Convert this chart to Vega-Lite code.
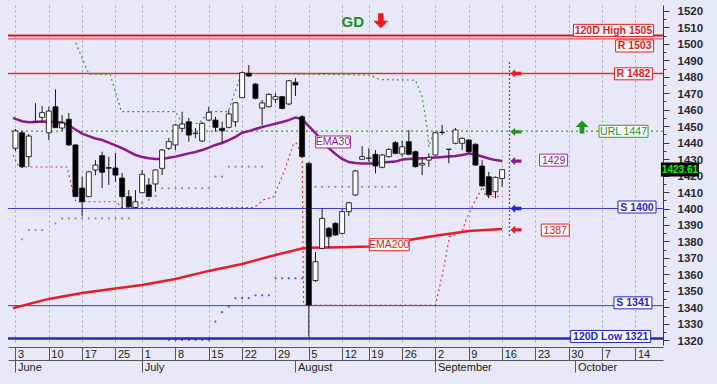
{
  "$schema": "https://vega.github.io/schema/vega-lite/v6.json",
  "width": 655,
  "height": 340,
  "autosize": {"type": "none"},
  "padding": {"left": 8, "top": 5, "right": 54, "bottom": 39},
  "background": "#e8e8f8",
  "config": {"view": {"fill": "#e8e8f8", "stroke": null}, "font": "Liberation Sans"},
  "resolve": {"axis": {"x": "independent", "y": "independent"}},
  "datasets": {
    "candles": [
      {"i":0,"o":1436.6,"h":1448.3,"l":1434.9,"c":1447.1},
      {"i":1,"o":1446.0,"h":1447.1,"l":1424.6,"c":1425.4},
      {"i":2,"o":1431.5,"h":1445.2,"l":1425.4,"c":1444.0},
      {"i":3,"o":1452.5,"h":1464.0,"l":1452.0,"c":1452.9},
      {"i":4,"o":1455.4,"h":1462.2,"l":1452.7,"c":1458.2},
      {"i":5,"o":1446.0,"h":1461.8,"l":1441.6,"c":1459.2},
      {"i":6,"o":1461.8,"h":1472.4,"l":1448.9,"c":1449.1},
      {"i":7,"o":1448.9,"h":1456.8,"l":1447.1,"c":1451.9},
      {"i":8,"o":1454.2,"h":1458.0,"l":1438.0,"c":1438.6},
      {"i":9,"o":1438.6,"h":1439.0,"l":1407.0,"c":1407.2},
      {"i":10,"o":1412.4,"h":1419.3,"l":1395.4,"c":1404.1},
      {"i":11,"o":1407.2,"h":1422.8,"l":1407.0,"c":1422.3},
      {"i":12,"o":1423.4,"h":1429.4,"l":1420.3,"c":1426.4},
      {"i":13,"o":1432.1,"h":1434.5,"l":1412.4,"c":1422.0},
      {"i":14,"o":1424.8,"h":1431.5,"l":1414.3,"c":1424.5},
      {"i":15,"o":1424.6,"h":1433.7,"l":1416.3,"c":1420.3},
      {"i":16,"o":1418.5,"h":1421.6,"l":1400.3,"c":1407.2},
      {"i":17,"o":1407.2,"h":1411.2,"l":1400.1,"c":1401.1},
      {"i":18,"o":1400.7,"h":1411.2,"l":1400.1,"c":1404.1},
      {"i":19,"o":1409.6,"h":1423.4,"l":1409.3,"c":1420.8},
      {"i":20,"o":1414.3,"h":1418.5,"l":1407.0,"c":1407.2},
      {"i":21,"o":1414.9,"h":1423.8,"l":1410.2,"c":1423.4},
      {"i":22,"o":1424.4,"h":1436.1,"l":1420.3,"c":1435.5},
      {"i":23,"o":1436.6,"h":1442.8,"l":1435.5,"c":1440.6},
      {"i":24,"o":1438.6,"h":1451.3,"l":1435.5,"c":1450.7},
      {"i":25,"o":1448.7,"h":1458.8,"l":1446.6,"c":1451.3},
      {"i":26,"o":1452.7,"h":1455.0,"l":1440.6,"c":1444.6},
      {"i":27,"o":1445.5,"h":1448.9,"l":1442.8,"c":1445.8},
      {"i":28,"o":1441.0,"h":1452.5,"l":1440.4,"c":1451.7},
      {"i":29,"o":1453.7,"h":1461.8,"l":1453.1,"c":1458.4},
      {"i":30,"o":1453.7,"h":1455.7,"l":1446.6,"c":1449.3},
      {"i":31,"o":1448.7,"h":1452.7,"l":1439.6,"c":1447.2},
      {"i":32,"o":1449.3,"h":1459.8,"l":1448.7,"c":1457.4},
      {"i":33,"o":1452.7,"h":1464.6,"l":1449.7,"c":1464.2},
      {"i":34,"o":1467.3,"h":1483.1,"l":1467.1,"c":1482.5},
      {"i":35,"o":1482.1,"h":1487.1,"l":1479.8,"c":1480.5},
      {"i":36,"o":1475.6,"h":1476.2,"l":1466.3,"c":1466.9},
      {"i":37,"o":1461.0,"h":1465.9,"l":1450.7,"c":1464.1},
      {"i":38,"o":1461.8,"h":1470.1,"l":1461.4,"c":1469.3},
      {"i":39,"o":1466.3,"h":1470.1,"l":1463.9,"c":1467.9},
      {"i":40,"o":1467.9,"h":1468.3,"l":1460.2,"c":1460.8},
      {"i":41,"o":1463.5,"h":1478.0,"l":1462.8,"c":1477.6},
      {"i":42,"o":1476.6,"h":1479.1,"l":1468.3,"c":1475.0},
      {"i":43,"o":1455.7,"h":1456.8,"l":1431.0,"c":1431.5},
      {"i":44,"o":1427.4,"h":1428.2,"l":1322.2,"c":1341.4},
      {"i":45,"o":1356.2,"h":1373.6,"l":1355.4,"c":1367.7},
      {"i":46,"o":1375.8,"h":1400.1,"l":1375.2,"c":1394.0},
      {"i":47,"o":1388.0,"h":1388.7,"l":1375.8,"c":1382.9},
      {"i":48,"o":1391.0,"h":1391.6,"l":1383.3,"c":1383.9},
      {"i":49,"o":1384.9,"h":1399.7,"l":1384.3,"c":1398.1},
      {"i":50,"o":1398.1,"h":1404.1,"l":1395.4,"c":1403.5},
      {"i":51,"o":1408.2,"h":1423.4,"l":1407.6,"c":1422.8},
      {"i":52,"o":1429.9,"h":1437.9,"l":1429.4,"c":1431.5},
      {"i":53,"o":1430.5,"h":1436.6,"l":1428.4,"c":1430.6},
      {"i":54,"o":1432.9,"h":1435.5,"l":1421.4,"c":1425.8},
      {"i":55,"o":1425.0,"h":1433.1,"l":1424.4,"c":1432.5},
      {"i":56,"o":1431.5,"h":1436.6,"l":1430.9,"c":1435.9},
      {"i":57,"o":1440.0,"h":1441.0,"l":1432.9,"c":1433.5},
      {"i":58,"o":1433.1,"h":1441.2,"l":1431.5,"c":1437.5},
      {"i":59,"o":1440.6,"h":1447.7,"l":1432.3,"c":1432.9},
      {"i":60,"o":1434.5,"h":1435.1,"l":1424.9,"c":1425.4},
      {"i":61,"o":1426.4,"h":1430.7,"l":1420.3,"c":1427.4},
      {"i":62,"o":1429.4,"h":1433.5,"l":1425.4,"c":1431.1},
      {"i":63,"o":1432.5,"h":1446.6,"l":1432.2,"c":1446.0},
      {"i":64,"o":1446.2,"h":1450.7,"l":1444.6,"c":1446.3},
      {"i":65,"o":1435.9,"h":1436.2,"l":1427.5,"c":1436.0},
      {"i":66,"o":1439.6,"h":1448.9,"l":1439.0,"c":1447.7},
      {"i":67,"o":1439.6,"h":1443.2,"l":1435.5,"c":1442.6},
      {"i":68,"o":1441.6,"h":1442.2,"l":1433.9,"c":1434.5},
      {"i":69,"o":1439.0,"h":1439.6,"l":1425.8,"c":1426.4},
      {"i":70,"o":1425.8,"h":1429.4,"l":1413.1,"c":1413.7},
      {"i":71,"o":1419.3,"h":1422.3,"l":1406.2,"c":1408.2},
      {"i":72,"o":1410.2,"h":1419.5,"l":1406.2,"c":1418.9},
      {"i":73,"o":1418.3,"h":1424.0,"l":1413.1,"c":1423.6}
    ],
    "ema30": [
      {"i":-0.37,"p":1455.0},{"i":0,"p":1454.4},{"i":1,"p":1453.0},{"i":2,"p":1452.4},{"i":3,"p":1452.6},{"i":4,"p":1452.8},
      {"i":5,"p":1452.7},{"i":6,"p":1452.6},{"i":7,"p":1452.3},{"i":8,"p":1450.5},{"i":9,"p":1448.0},
      {"i":10,"p":1445.5},{"i":11,"p":1444.0},{"i":12,"p":1442.5},{"i":13,"p":1441.6},{"i":14,"p":1440.0},
      {"i":15,"p":1438.3},{"i":16,"p":1436.6},{"i":17,"p":1434.5},{"i":18,"p":1432.5},{"i":19,"p":1431.3},
      {"i":20,"p":1430.5},{"i":21,"p":1430.0},{"i":22,"p":1430.0},{"i":23,"p":1430.8},{"i":24,"p":1431.5},
      {"i":25,"p":1432.5},{"i":26,"p":1433.5},{"i":27,"p":1434.3},{"i":28,"p":1435.5},{"i":29,"p":1437.0},
      {"i":30,"p":1438.6},{"i":31,"p":1439.8},{"i":32,"p":1441.5},{"i":33,"p":1443.5},{"i":34,"p":1446.0},
      {"i":35,"p":1447.0},{"i":36,"p":1448.3},{"i":37,"p":1449.5},{"i":38,"p":1450.5},{"i":39,"p":1451.5},
      {"i":40,"p":1452.5},{"i":41,"p":1453.7},{"i":42,"p":1455.3},{"i":43,"p":1454.3},{"i":44,"p":1450.1},
      {"i":45,"p":1445.8},{"i":46,"p":1441.0},{"i":47,"p":1436.7},{"i":48,"p":1433.1},{"i":49,"p":1430.1},
      {"i":50,"p":1428.2},{"i":51,"p":1427.6},{"i":52,"p":1427.4},{"i":53,"p":1427.4},{"i":54,"p":1427.4},
      {"i":55,"p":1427.9},{"i":56,"p":1428.2},{"i":57,"p":1428.5},{"i":58,"p":1429.8},{"i":59,"p":1430.1},
      {"i":60,"p":1430.3},{"i":61,"p":1430.5},{"i":62,"p":1430.7},{"i":63,"p":1431.0},{"i":64,"p":1431.3},
      {"i":65,"p":1431.6},{"i":66,"p":1431.9},{"i":67,"p":1432.5},{"i":68,"p":1433.4},{"i":69,"p":1432.8},
      {"i":70,"p":1431.6},{"i":71,"p":1430.4},{"i":72,"p":1429.4},{"i":73,"p":1428.8}
    ],
    "ema200": [
      {"i":-0.37,"p":1339.4},{"i":0,"p":1339.9},{"i":5,"p":1345.1},{"i":10,"p":1348.7},{"i":15,"p":1351.4},
      {"i":19,"p":1353.6},{"i":24,"p":1357.2},{"i":29,"p":1362.1},{"i":34,"p":1366.3},{"i":39,"p":1371.8},
      {"i":43,"p":1375.7},{"i":44,"p":1376.2},{"i":49,"p":1376.5},{"i":53,"p":1376.9},{"i":58,"p":1380.3},
      {"i":63,"p":1383.5},{"i":68,"p":1386.3},{"i":73,"p":1387.5}
    ],
    "greenstop": [
      {"i":9.04,"p":1500.7},{"i":11.0,"p":1481.7},{"i":14.2,"p":1481.4},{"i":15.9,"p":1458.8},
      {"i":24.0,"p":1458.8},{"i":25.0,"p":1451.7},{"i":27.5,"p":1451.7},{"i":29.0,"p":1458.8},
      {"i":31.9,"p":1458.8},{"i":33.9,"p":1482.1},{"i":53.1,"p":1481.1},{"i":54.6,"p":1478.3},
      {"i":60.0,"p":1478.0},{"i":61.0,"p":1467.9},{"i":61.8,"p":1447.7},{"i":62.0,"p":1437.5},
      {"i":62.7,"p":1445.8},{"i":63.1,"p":1446.6}
    ],
    "redstop": [
      {"i":-0.37,"p":1432.5},{"i":0.52,"p":1425.2},{"i":7.75,"p":1425.2},{"i":8.79,"p":1407.0},
      {"i":9.09,"p":1404.1},{"i":15.14,"p":1404.1},{"i":15.88,"p":1400.6},{"i":35.82,"p":1400.6},
      {"i":37.15,"p":1405.2},{"i":38.77,"p":1407.3},{"i":40.4,"p":1423.4},{"i":41.73,"p":1439.6},
      {"i":42.17,"p":1439.6},{"i":43.01,"p":1431.3},{"i":43.21,"p":1341.4},{"i":63.0,"p":1341.4},
      {"i":64.08,"p":1360.7},{"i":64.73,"p":1374.8},{"i":65.11,"p":1382.9},{"i":66.99,"p":1385.8},
      {"i":67.58,"p":1393.0},{"i":68.76,"p":1403.3},{"i":70.09,"p":1413.1},{"i":70.53,"p":1407.3},
      {"i":73.04,"p":1407.3}
    ],
    "dotsA": [
      {"i":1,"p":1381.3},{"i":2,"p":1386.9},{"i":3,"p":1386.9},{"i":4,"p":1386.9},{"i":6,"p":1391.0},
      {"i":7,"p":1394.0},{"i":8,"p":1394.0},{"i":9,"p":1394.0},{"i":10,"p":1394.0},{"i":11,"p":1394.0},
      {"i":12,"p":1394.0},{"i":13,"p":1394.0},{"i":14,"p":1394.0},{"i":15,"p":1394.0},{"i":16,"p":1394.0},
      {"i":17,"p":1394.0},{"i":19,"p":1403.3},{"i":20,"p":1405.2},{"i":21,"p":1407.6},{"i":22,"p":1412.3},
      {"i":23,"p":1412.3},{"i":24,"p":1412.3},{"i":25,"p":1412.3},{"i":26,"p":1412.3},{"i":27,"p":1412.3},
      {"i":28,"p":1412.3},{"i":29,"p":1412.3},{"i":30,"p":1419.3},{"i":31,"p":1419.3},{"i":32,"p":1425.4},
      {"i":33,"p":1425.4},{"i":34,"p":1425.4},{"i":35,"p":1425.4},{"i":36,"p":1425.4},{"i":37,"p":1425.4},
      {"i":45,"p":1413.2},{"i":46,"p":1413.2},{"i":47,"p":1413.2},{"i":48,"p":1413.2},{"i":49,"p":1413.2},
      {"i":50,"p":1413.2},{"i":51,"p":1413.2},{"i":52,"p":1413.2},{"i":53,"p":1413.2},{"i":54,"p":1413.2},
      {"i":55,"p":1413.2},{"i":56,"p":1413.2},{"i":57,"p":1413.2}
    ],
    "dotsB": [
      {"i":23,"p":1320.2},{"i":24,"p":1320.2},{"i":25,"p":1320.2},{"i":26,"p":1320.2},{"i":27,"p":1320.2},
      {"i":28,"p":1320.2},{"i":29,"p":1320.2},{"i":30,"p":1331.3},{"i":31,"p":1337.0},{"i":32,"p":1340.4},
      {"i":33,"p":1345.5},{"i":34,"p":1345.5},{"i":35,"p":1345.5},{"i":36,"p":1347.3},{"i":37,"p":1347.3},
      {"i":38,"p":1347.3},{"i":39,"p":1357.6},{"i":40,"p":1357.6},{"i":41,"p":1357.6},{"i":42,"p":1357.6},
      {"i":43,"p":1357.6}
    ],
    "labels": [
      {"label":"120D High 1505","kind":"resistance","i":89.7,"p":1508.2},
      {"label":"R 1503","kind":"resistance","i":92.87,"p":1498.7},
      {"label":"R 1482","kind":"resistance","i":92.69,"p":1481.8},
      {"label":"URL 1447","kind":"url","i":91.21,"p":1446.9},
      {"label":"1429","kind":"ema30","i":80.72,"p":1429.4},
      {"label":"1423.61","kind":"price","i":99.67,"p":1423.7},
      {"label":"S 1400","kind":"support","i":93.23,"p":1400.9},
      {"label":"1387","kind":"ema200","i":80.97,"p":1386.9},
      {"label":"S 1341","kind":"support","i":92.62,"p":1342.7},
      {"label":"120D Low 1321","kind":"support","i":89.29,"p":1322.3},
      {"label":"EMA30","kind":"ema30","i":47.64,"p":1440.4},
      {"label":"EMA200","kind":"ema200","i":56.06,"p":1378.0}
    ],
    "arrows": [
      {"i":75.07,"p":1482,"kind":"resistance"},
      {"i":75.07,"p":1446.5,"kind":"url"},
      {"i":75.07,"p":1428.8,"kind":"ema30"},
      {"i":75.07,"p":1400,"kind":"support"},
      {"i":75.07,"p":1387,"kind":"ema200"}
    ]
  },
  "layer": [
    {
      "data": {"name": "dotsA"},
      "mark": {"type": "point", "filled": true, "size": 5, "color": "#8a8ab8", "opacity": 1},
      "encoding": {
        "x": {"field": "i", "type": "quantitative", "axis": null},
        "y": {"field": "p", "type": "quantitative", "axis": null}
      }
    },
    {
      "data": {"name": "dotsB"},
      "mark": {"type": "point", "filled": true, "size": 5, "color": "#5a5ad0", "opacity": 1},
      "encoding": {
        "x": {"field": "i", "type": "quantitative", "axis": null},
        "y": {"field": "p", "type": "quantitative", "axis": null}
      }
    },
    {
      "data": {"values": [{"level": 1505}]},
      "mark": {"type": "rule", "color": "#d8141c", "strokeWidth": 2},
      "encoding": {"y": {"field": "level", "type": "quantitative", "axis": null}}
    },
    {
      "data": {"values": [{"level": 1503}]},
      "mark": {"type": "rule", "color": "#e03030", "strokeWidth": 1},
      "encoding": {"y": {"field": "level", "type": "quantitative", "axis": null}}
    },
    {
      "data": {"values": [{"level": 1482}]},
      "mark": {"type": "rule", "color": "#e03030", "strokeWidth": 1.5},
      "encoding": {"y": {"field": "level", "type": "quantitative", "axis": null}}
    },
    {
      "data": {"values": [{"level": 1447}]},
      "mark": {"type": "rule", "color": "#3a9a3a", "strokeWidth": 1.2, "strokeDash": [2, 3]},
      "encoding": {"y": {"field": "level", "type": "quantitative", "axis": null}}
    },
    {
      "data": {"values": [{"level": 1400}, {"level": 1341}]},
      "mark": {"type": "rule", "color": "#3c3cdc", "strokeWidth": 1},
      "encoding": {"y": {"field": "level", "type": "quantitative", "axis": null}}
    },
    {
      "data": {"values": [{"level": 1321}]},
      "mark": {"type": "rule", "color": "#2828b4", "strokeWidth": 2.5},
      "encoding": {"y": {"field": "level", "type": "quantitative", "axis": null}}
    },
    {
      "data": {"name": "greenstop"},
      "mark": {"type": "line", "color": "#3a9a3a", "strokeWidth": 1.2, "strokeDash": [2, 3]},
      "encoding": {
        "x": {"field": "i", "type": "quantitative", "axis": null},
        "y": {"field": "p", "type": "quantitative", "axis": null}
      }
    },
    {
      "data": {"name": "redstop"},
      "mark": {"type": "line", "color": "#e03a3a", "strokeWidth": 1.2, "strokeDash": [2, 3]},
      "encoding": {
        "x": {"field": "i", "type": "quantitative", "axis": null},
        "y": {"field": "p", "type": "quantitative", "axis": null}
      }
    },
    {
      "data": {"name": "ema200"},
      "mark": {"type": "line", "color": "#e41e26", "strokeWidth": 2.5},
      "encoding": {
        "x": {
          "field": "i", "type": "quantitative",
          "axis": {
            "title": null, "orient": "bottom", "offset": 15,
            "values": [0, 19, 42, 63, 84],
            "labelExpr": "['June','July','August','September','October'][indexof([0,19,42,63,84], datum.value)]",
            "grid": false, "domainColor": "#555555", "tickColor": "#555555", "tickSize": 12,
            "labelAlign": "left", "labelBaseline": "top", "labelPadding": -11, "labelOffset": 2,
            "labelFontSize": 11, "labelColor": "#222222", "labelFlush": false, "labelOverlap": false
          }
        },
        "y": {"field": "p", "type": "quantitative", "axis": null}
      }
    },
    {
      "data": {"name": "ema30"},
      "mark": {"type": "line", "color": "#8c1a8c", "strokeWidth": 2.5},
      "encoding": {
        "x": {"field": "i", "type": "quantitative", "axis": null},
        "y": {"field": "p", "type": "quantitative", "axis": null}
      }
    },
    {
      "data": {"name": "candles"},
      "mark": {"type": "rule", "color": "#1a1a1a", "strokeWidth": 1},
      "encoding": {
        "x": {
          "field": "i", "type": "quantitative",
          "scale": {"domain": [-0.37, 96.38], "nice": false, "zero": false},
          "axis": {
            "title": null, "orient": "bottom", "offset": 2,
            "values": [0, 5, 10, 15, 19, 24, 29, 34, 39, 44, 49, 53, 58, 63, 68, 73, 78, 83, 88, 93],
            "labelExpr": "['3','10','17','25','1','8','15','22','29','5','12','19','26','2','9','16','23','30','7','14'][indexof([0,5,10,15,19,24,29,34,39,44,49,53,58,63,68,73,78,83,88,93], datum.value)]",
            "grid": true, "gridDash": [2, 3], "gridColor": "#a4a4b0", "gridWidth": 1,
            "domainColor": "#555555", "tickColor": "#555555", "tickSize": 13,
            "labelAlign": "left", "labelBaseline": "top", "labelPadding": -12, "labelOffset": 2,
            "labelFontSize": 11, "labelColor": "#222222", "labelFlush": false, "labelOverlap": false
          }
        },
        "y": {
          "field": "l", "type": "quantitative",
          "scale": {"domain": [1317.1, 1523.6], "nice": false, "zero": false},
          "axis": {
            "title": null, "orient": "right", "format": "d",
            "values": [1320,1325,1330,1335,1340,1345,1350,1355,1360,1365,1370,1375,1380,1385,1390,1395,1400,1405,1410,1415,1420,1425,1430,1435,1440,1445,1450,1455,1460,1465,1470,1475,1480,1485,1490,1495,1500,1505,1510,1515,1520],
            "labelExpr": "datum.value % 10 == 0 ? format(datum.value, 'd') : ''",
            "tickSize": {"condition": {"test": "datum.value % 10 != 0", "value": 3}, "value": 6},
            "grid": false, "domainColor": "#3a3a3a", "tickColor": "#3a3a3a",
            "labelFontSize": 11.5, "labelFontWeight": "bold", "labelColor": "#2a2a2a",
            "labelPadding": 8, "labelOffset": 1, "labelOverlap": false
          }
        },
        "y2": {"field": "h"}
      }
    },
    {
      "data": {"name": "candles"},
      "mark": {"type": "bar", "size": 5, "stroke": "#1a1a1a", "strokeWidth": 0.9},
      "encoding": {
        "x": {"field": "i", "type": "quantitative", "axis": null},
        "y": {"field": "o", "type": "quantitative", "axis": null},
        "y2": {"field": "c"},
        "fill": {"condition": {"test": "datum.c >= datum.o", "value": "#ffffff"}, "value": "#000000"}
      }
    },
    {
      "data": {"values": [{"i": 74.1, "top": 1489, "bottom": 1382}]},
      "mark": {"type": "rule", "color": "#a040a0", "strokeWidth": 1.3, "strokeDash": [2, 2]},
      "encoding": {
        "x": {"field": "i", "type": "quantitative", "axis": null},
        "y": {"field": "top", "type": "quantitative", "axis": null},
        "y2": {"field": "bottom"}
      }
    },
    {
      "data": {"name": "arrows"},
      "mark": {"type": "point", "shape": "M-1,0L-0.15,-0.75L-0.15,-0.3L1,-0.3L1,0.3L-0.15,0.3L-0.15,0.75Z", "size": 121, "filled": true, "opacity": 1, "strokeWidth": 0},
      "encoding": {
        "x": {"field": "i", "type": "quantitative", "axis": null},
        "y": {"field": "p", "type": "quantitative", "axis": null},
        "color": {"field": "kind", "type": "nominal", "legend": null,
          "scale": {"domain": ["resistance", "support", "url", "ema30", "ema200", "price"],
                    "range": ["#e02020", "#2323d8", "#259225", "#8c1a8c", "#e02020", "#00ff00"]}}
      }
    },
    {
      "data": {"values": [{"i": 54.8, "p": 1514.1}]},
      "mark": {"type": "point", "shape": "M-0.36,-1L0.36,-1L0.36,0L1,0L0,1L-1,0L-0.36,0Z", "size": 225, "filled": true, "color": "#e81c1c", "opacity": 1, "strokeWidth": 0},
      "encoding": {
        "x": {"field": "i", "type": "quantitative", "axis": null},
        "y": {"field": "p", "type": "quantitative", "axis": null}
      }
    },
    {
      "data": {"values": [{"i": 84.98, "p": 1449.5}]},
      "mark": {"type": "point", "shape": "M-0.36,1L0.36,1L0.36,0L1,0L0,-1L-1,0L-0.36,0Z", "size": 169, "filled": true, "color": "#1e961e", "opacity": 1, "strokeWidth": 0},
      "encoding": {
        "x": {"field": "i", "type": "quantitative", "axis": null},
        "y": {"field": "p", "type": "quantitative", "axis": null}
      }
    },
    {
      "data": {"values": [{"label": "GD", "i": 50.6, "p": 1513.5}]},
      "mark": {"type": "text", "fontSize": 15, "fontWeight": "bold", "color": "#1f8c1f", "align": "center", "baseline": "middle"},
      "encoding": {
        "x": {"field": "i", "type": "quantitative", "axis": null},
        "y": {"field": "p", "type": "quantitative", "axis": null},
        "text": {"field": "label"}
      }
    },
    {
      "data": {"name": "labels"},
      "transform": [{"filter": "indexof(['R 1503','R 1482','S 1400','S 1341'], datum.label) >= 0"}],
      "mark": {"type": "rect", "width": 38, "height": 12, "fill": "#ffffff", "strokeWidth": 1},
      "encoding": {
        "x": {"field": "i", "type": "quantitative", "axis": null},
        "y": {"field": "p", "type": "quantitative", "axis": null},
        "stroke": {"field": "kind", "type": "nominal", "legend": null,
          "scale": {"domain": ["resistance", "support", "url", "ema30", "ema200", "price"],
                    "range": ["#e02020", "#2323c8", "#2f9a2f", "#9a2f9a", "#e02020", "#000000"]}}
      }
    },
    {
      "data": {"name": "labels"},
      "transform": [{"filter": "indexof(['120D High 1505','120D Low 1321'], datum.label) >= 0"}],
      "mark": {"type": "rect", "width": 80, "height": 12, "fill": "#ffffff", "strokeWidth": 1},
      "encoding": {
        "x": {"field": "i", "type": "quantitative", "axis": null},
        "y": {"field": "p", "type": "quantitative", "axis": null},
        "stroke": {"field": "kind", "type": "nominal", "legend": null,
          "scale": {"domain": ["resistance", "support", "url", "ema30", "ema200", "price"],
                    "range": ["#e02020", "#2323c8", "#2f9a2f", "#9a2f9a", "#e02020", "#000000"]}}
      }
    },
    {
      "data": {"name": "labels"},
      "transform": [{"filter": "datum.label == 'URL 1447'"}],
      "mark": {"type": "rect", "width": 49, "height": 12, "fill": "#ffffff", "strokeWidth": 1},
      "encoding": {
        "x": {"field": "i", "type": "quantitative", "axis": null},
        "y": {"field": "p", "type": "quantitative", "axis": null},
        "stroke": {"field": "kind", "type": "nominal", "legend": null,
          "scale": {"domain": ["resistance", "support", "url", "ema30", "ema200", "price"],
                    "range": ["#e02020", "#2323c8", "#2f9a2f", "#9a2f9a", "#e02020", "#000000"]}}
      }
    },
    {
      "data": {"name": "labels"},
      "transform": [{"filter": "datum.label == '1429' || datum.label == '1387'"}],
      "mark": {"type": "rect", "width": 28, "height": 12, "fill": "#ffffff", "strokeWidth": 1},
      "encoding": {
        "x": {"field": "i", "type": "quantitative", "axis": null},
        "y": {"field": "p", "type": "quantitative", "axis": null},
        "stroke": {"field": "kind", "type": "nominal", "legend": null,
          "scale": {"domain": ["resistance", "support", "url", "ema30", "ema200", "price"],
                    "range": ["#e02020", "#2323c8", "#2f9a2f", "#9a2f9a", "#e02020", "#000000"]}}
      }
    },
    {
      "data": {"name": "labels"},
      "transform": [{"filter": "datum.label == 'EMA30'"}],
      "mark": {"type": "rect", "width": 35, "height": 12, "fill": "#ffffff", "strokeWidth": 1},
      "encoding": {
        "x": {"field": "i", "type": "quantitative", "axis": null},
        "y": {"field": "p", "type": "quantitative", "axis": null},
        "stroke": {"field": "kind", "type": "nominal", "legend": null,
          "scale": {"domain": ["resistance", "support", "url", "ema30", "ema200", "price"],
                    "range": ["#e02020", "#2323c8", "#2f9a2f", "#9a2f9a", "#e02020", "#000000"]}}
      }
    },
    {
      "data": {"name": "labels"},
      "transform": [{"filter": "datum.label == 'EMA200'"}],
      "mark": {"type": "rect", "width": 40, "height": 12, "fill": "#ffffff", "strokeWidth": 1},
      "encoding": {
        "x": {"field": "i", "type": "quantitative", "axis": null},
        "y": {"field": "p", "type": "quantitative", "axis": null},
        "stroke": {"field": "kind", "type": "nominal", "legend": null,
          "scale": {"domain": ["resistance", "support", "url", "ema30", "ema200", "price"],
                    "range": ["#e02020", "#2323c8", "#2f9a2f", "#9a2f9a", "#e02020", "#000000"]}}
      }
    },
    {
      "data": {"name": "labels"},
      "transform": [{"filter": "datum.label == '1423.61'"}],
      "mark": {"type": "rect", "width": 38, "height": 14, "fill": "#000000"},
      "encoding": {
        "x": {"field": "i", "type": "quantitative", "axis": null},
        "y": {"field": "p", "type": "quantitative", "axis": null}
      }
    },
    {
      "data": {"name": "labels"},
      "transform": [{"filter": "indexof(['120D High 1505','R 1503','R 1482','S 1400','S 1341','120D Low 1321'], datum.label) >= 0"}],
      "mark": {"type": "text", "fontSize": 10.5, "fontWeight": "bold", "align": "center", "baseline": "middle", "dy": 0.5},
      "encoding": {
        "x": {"field": "i", "type": "quantitative", "axis": null},
        "y": {"field": "p", "type": "quantitative", "axis": null},
        "text": {"field": "label"},
        "color": {"field": "kind", "type": "nominal", "legend": null,
          "scale": {"domain": ["resistance", "support", "url", "ema30", "ema200", "price"],
                    "range": ["#e02020", "#2323d8", "#259225", "#8c1a8c", "#e02020", "#00ff00"]}}
      }
    },
    {
      "data": {"name": "labels"},
      "transform": [{"filter": "datum.label == '1423.61'"}],
      "mark": {"type": "text", "fontSize": 10, "fontWeight": "bold", "align": "center", "baseline": "middle", "dy": 0.5},
      "encoding": {
        "x": {"field": "i", "type": "quantitative", "axis": null},
        "y": {"field": "p", "type": "quantitative", "axis": null},
        "text": {"field": "label"},
        "color": {"field": "kind", "type": "nominal", "legend": null,
          "scale": {"domain": ["resistance", "support", "url", "ema30", "ema200", "price"],
                    "range": ["#e02020", "#2323d8", "#259225", "#8c1a8c", "#e02020", "#00ff00"]}}
      }
    },
    {
      "data": {"name": "labels"},
      "transform": [{"filter": "indexof(['URL 1447','1429','1387','EMA30','EMA200'], datum.label) >= 0"}],
      "mark": {"type": "text", "fontSize": 10.5, "align": "center", "baseline": "middle", "dy": 0.5},
      "encoding": {
        "x": {"field": "i", "type": "quantitative", "axis": null},
        "y": {"field": "p", "type": "quantitative", "axis": null},
        "text": {"field": "label"},
        "color": {"field": "kind", "type": "nominal", "legend": null,
          "scale": {"domain": ["resistance", "support", "url", "ema30", "ema200", "price"],
                    "range": ["#e02020", "#2323d8", "#259225", "#8c1a8c", "#e02020", "#00ff00"]}}
      }
    }
  ]
}
